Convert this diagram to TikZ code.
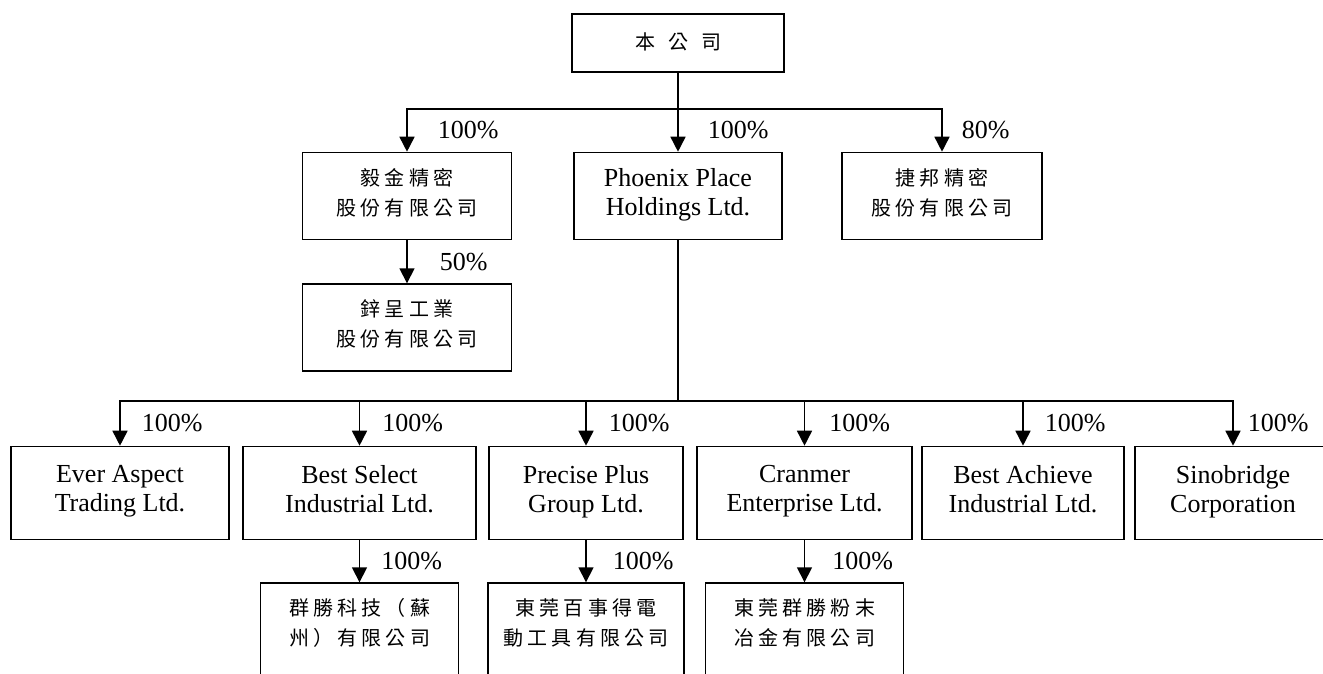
\documentclass[tikz,border=0pt]{standalone}
\usepackage{fontspec}
\usepackage{tikz}
\usetikzlibrary{arrows.meta,positioning}

\setmainfont{Liberation Serif}
\newfontfamily\cjk{Noto Sans CJK TC}[LetterSpace=21]
\newcommand{\zh}{\cjk\fontsize{20}{30}\selectfont}
\newcommand{\en}{\fontsize{26}{29}\selectfont}
\newcommand{\pc}{\fontsize{26}{30}\selectfont}

\tikzset{
  firm/.style={draw, line width=1.6pt, inner sep=0pt, align=center,
    minimum width=#1, minimum height=87pt,
    execute at begin node=\strut, execute at end node=\strut},
  link/.style={line width=1.6pt},
  own/.style={link, -{Triangle[width=15pt,length=15pt]}},
  pct/.style={inner sep=0pt, font=\pc, right=#1},
  pct/.default=22pt
}

\begin{document}
\begin{tikzpicture}[x=1pt,y=-1pt]
  \useasboundingbox (0,0) rectangle (1323,673);
  % parent company
  \node[firm=212pt, minimum height=58pt, font=\zh] (top) at (678,43) {本\hspace{13pt}公\hspace{13pt}司};
  \coordinate (fork) at (678,109);
  % first level
  \node[firm=209pt, font=\zh] (yijin) at (407,196) {毅金精密\\股份有限公司};
  \node[firm=208pt, font=\en] (phoenix) at (678,196) {Phoenix Place\\Holdings Ltd.};
  \node[firm=200pt, font=\zh] (jiebang) at (942,196) {捷邦精密\\股份有限公司};
  \node[firm=209pt, font=\zh, below=43pt of yijin] (xincheng) {鋅呈工業\\股份有限公司};
  \draw[link] (top) -- (fork);
  \draw[own] (fork) -| (yijin.north) node[pct=30pt, pos=0.75] {100\%};
  \draw[own] (fork) -- (phoenix) node[pct=29pt, midway] {100\%};
  \draw[own] (fork) -| (jiebang.north) node[pct=19pt, pos=0.75] {80\%};
  \draw[own] (yijin) -- (xincheng) node[pct=32pt, midway] {50\%};
  % second level
  \coordinate (hub) at (678,401);
  \node[firm=218pt, minimum height=93pt, font=\en] (ever) at (120,493) {Ever Aspect\\Trading Ltd.};
  \node[firm=233pt, minimum height=93pt, font=\en] (bestsel) at (359.5,493) {Best Select\\Industrial Ltd.};
  \node[firm=194pt, minimum height=93pt, font=\en] (precise) at (586,493) {Precise Plus\\Group Ltd.};
  \node[firm=215pt, minimum height=93pt, font=\en] (cranmer) at (804.5,493) {Cranmer\\Enterprise Ltd.};
  \node[firm=202pt, minimum height=93pt, font=\en] (bestach) at (1023,493) {Best Achieve\\Industrial Ltd.};
  \node[firm=196pt, minimum height=93pt, font=\en] (sino) at (1233,493) {Sinobridge\\Corporation};
  \draw[link] (phoenix) -- (hub);
  \draw[own] (hub) -| (ever.north) node[pct=21pt, pos=0.75] {100\%};
  \draw[own] (hub) -| (bestsel.north) node[pct, pos=0.75] {100\%};
  \draw[own] (hub) -| (precise.north) node[pct, pos=0.75] {100\%};
  \draw[own] (hub) -| (cranmer.north) node[pct=24pt, pos=0.75] {100\%};
  \draw[own] (hub) -| (bestach.north) node[pct=21pt, pos=0.75] {100\%};
  \draw[own] (hub) -| (sino.north) node[pct=14pt, pos=0.75] {100\%};
  % third level
  \node[firm=198pt, minimum height=116pt, font=\zh, below=42pt of bestsel] (qunsheng) {群勝科技（蘇\\州）有限公司\\\mbox{}};
  \node[firm=196pt, minimum height=116pt, font=\zh, below=42pt of precise] (baishide) {東莞百事得電\\動工具有限公司\\\mbox{}};
  \node[firm=198pt, minimum height=116pt, font=\zh, below=42pt of cranmer] (fenmo) {東莞群勝粉末\\冶金有限公司\\\mbox{}};
  \draw[own] (bestsel) -- (qunsheng) node[pct=21pt, midway] {100\%};
  \draw[own] (precise) -- (baishide) node[pct=26pt, midway] {100\%};
  \draw[own] (cranmer) -- (fenmo) node[pct=27pt, midway] {100\%};
\end{tikzpicture}
\end{document}
